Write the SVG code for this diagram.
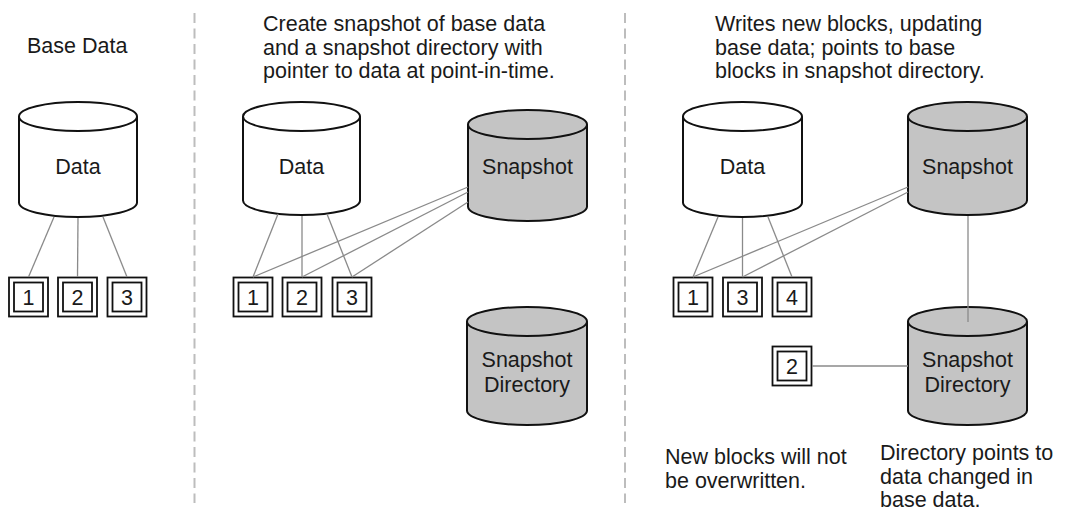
<svg xmlns="http://www.w3.org/2000/svg" width="1072" height="515" viewBox="0 0 1072 515">
  <style>
    text { font-family: "Liberation Sans", Arial, sans-serif; font-size: 21.5px; fill: #1a1a1a; }
    .mid { text-anchor: middle; }
    .cyl { stroke: #111; stroke-width: 2; }
    .white { fill: #ffffff; }
    .grey { fill: #c4c4c4; }
    .blk { fill: #ffffff; stroke: #111; stroke-width: 1.8; }
    .link { stroke: #8a8a8a; stroke-width: 1.3; fill: none; }
    .sep { stroke: #bdbdbd; stroke-width: 2; stroke-dasharray: 10 5.5; }
  </style>
  <rect width="1072" height="515" fill="#ffffff"/>

  <!-- panel separators -->
  <g id="separators">
    <line class="sep" x1="194.5" y1="13" x2="194.5" y2="503"/>
    <line class="sep" x1="625" y1="13" x2="625" y2="503"/>
  </g>

  <!-- captions -->
  <g id="captions">
    <text x="27" y="53">Base Data</text>
    <text x="263" y="31">Create snapshot of base data</text>
    <text x="263" y="55">and a snapshot directory with</text>
    <text x="263" y="78">pointer to data at point-in-time.</text>
    <text x="715" y="31">Writes new blocks, updating</text>
    <text x="715" y="55">base data; points to base</text>
    <text x="715" y="78">blocks in snapshot directory.</text>
    <text x="665" y="464">New blocks will not</text>
    <text x="665" y="488">be overwritten.</text>
    <text x="880" y="460">Directory points to</text>
    <text x="880" y="484">data changed in</text>
    <text x="880" y="507">base data.</text>
  </g>

  <!-- panel 1: base data -->
  <g id="p1-data">
    <path class="cyl white" d="M19 116.5 V202.5 A59 14.5 0 0 0 137 202.5 V116.5"/>
    <ellipse class="cyl white" cx="78" cy="116.5" rx="59" ry="14.5"/>
    <text class="mid" x="78" y="174">Data</text>
  </g>
  <g id="p1-block1"><rect class="blk" x="9" y="277.5" width="39" height="39"/><rect class="blk" x="14" y="282.5" width="29" height="29"/><text class="mid" x="28.5" y="305">1</text></g>
  <g id="p1-block2"><rect class="blk" x="58" y="277.5" width="39" height="39"/><rect class="blk" x="63" y="282.5" width="29" height="29"/><text class="mid" x="77.5" y="305">2</text></g>
  <g id="p1-block3"><rect class="blk" x="107.5" y="277.5" width="39" height="39"/><rect class="blk" x="112.5" y="282.5" width="29" height="29"/><text class="mid" x="127" y="305">3</text></g>

  <!-- panel 2: snapshot created -->
  <g id="p2-data">
    <path class="cyl white" d="M243 116.5 V200.5 A58.5 14.5 0 0 0 360 200.5 V116.5"/>
    <ellipse class="cyl white" cx="301.5" cy="116.5" rx="58.5" ry="14.5"/>
    <text class="mid" x="301.5" y="174">Data</text>
  </g>
  <g id="p2-snapshot">
    <path class="cyl grey" d="M468 124.5 V206.5 A59.5 14.5 0 0 0 587 206.5 V124.5"/>
    <ellipse class="cyl grey" cx="527.5" cy="124.5" rx="59.5" ry="14.5"/>
    <text class="mid" x="527.5" y="174">Snapshot</text>
  </g>
  <g id="p2-directory">
    <path class="cyl grey" d="M467 321.5 V410.5 A60 14.5 0 0 0 587 410.5 V321.5"/>
    <ellipse class="cyl grey" cx="527" cy="321.5" rx="60" ry="14.5"/>
    <text class="mid" x="527" y="367">Snapshot</text>
    <text class="mid" x="527" y="392">Directory</text>
  </g>
  <g id="p2-block1"><rect class="blk" x="233.5" y="277.5" width="39" height="39"/><rect class="blk" x="238.5" y="282.5" width="29" height="29"/><text class="mid" x="253" y="305">1</text></g>
  <g id="p2-block2"><rect class="blk" x="282.5" y="277.5" width="39" height="39"/><rect class="blk" x="287.5" y="282.5" width="29" height="29"/><text class="mid" x="302" y="305">2</text></g>
  <g id="p2-block3"><rect class="blk" x="332.5" y="277.5" width="39" height="39"/><rect class="blk" x="337.5" y="282.5" width="29" height="29"/><text class="mid" x="352" y="305">3</text></g>

  <!-- panel 3: after writes -->
  <g id="p3-data">
    <path class="cyl white" d="M683 116.5 V202.5 A59.5 14.5 0 0 0 802 202.5 V116.5"/>
    <ellipse class="cyl white" cx="742.5" cy="116.5" rx="59.5" ry="14.5"/>
    <text class="mid" x="742.5" y="174">Data</text>
  </g>
  <g id="p3-snapshot">
    <path class="cyl grey" d="M908 116.5 V200.5 A59.5 14.5 0 0 0 1027 200.5 V116.5"/>
    <ellipse class="cyl grey" cx="967.5" cy="116.5" rx="59.5" ry="14.5"/>
    <text class="mid" x="967.5" y="174">Snapshot</text>
  </g>
  <g id="p3-directory">
    <path class="cyl grey" d="M908 321.5 V410.5 A59.5 14.5 0 0 0 1027 410.5 V321.5"/>
    <ellipse class="cyl grey" cx="967.5" cy="321.5" rx="59.5" ry="14.5"/>
    <text class="mid" x="967.5" y="367">Snapshot</text>
    <text class="mid" x="967.5" y="392">Directory</text>
  </g>
  <g id="p3-block1"><rect class="blk" x="673.5" y="277.5" width="39" height="39"/><rect class="blk" x="678.5" y="282.5" width="29" height="29"/><text class="mid" x="693" y="305">1</text></g>
  <g id="p3-block3"><rect class="blk" x="723" y="277.5" width="39" height="39"/><rect class="blk" x="728" y="282.5" width="29" height="29"/><text class="mid" x="742.5" y="305">3</text></g>
  <g id="p3-block4"><rect class="blk" x="772.5" y="277.5" width="39" height="39"/><rect class="blk" x="777.5" y="282.5" width="29" height="29"/><text class="mid" x="792" y="305">4</text></g>
  <g id="p3-block2"><rect class="blk" x="772.5" y="346.5" width="39" height="39"/><rect class="blk" x="777.5" y="351.5" width="29" height="29"/><text class="mid" x="792" y="374">2</text></g>

  <!-- connectors -->
  <g id="connectors">
    <line class="link" x1="54" y1="217" x2="28.5" y2="277"/>
    <line class="link" x1="78" y1="218" x2="77.5" y2="277"/>
    <line class="link" x1="103" y1="217" x2="127" y2="277"/>

    <line class="link" x1="278" y1="214" x2="253" y2="277"/>
    <line class="link" x1="302" y1="216" x2="302" y2="277"/>
    <line class="link" x1="327" y1="214" x2="352" y2="277"/>
    <line class="link" x1="468" y1="187" x2="253" y2="277"/>
    <line class="link" x1="468" y1="192" x2="302" y2="277"/>
    <line class="link" x1="468" y1="202" x2="352" y2="277"/>

    <line class="link" x1="718" y1="217" x2="693" y2="277"/>
    <line class="link" x1="742.5" y1="218" x2="742.5" y2="277"/>
    <line class="link" x1="768" y1="217" x2="792" y2="277"/>
    <line class="link" x1="908" y1="187" x2="693" y2="277"/>
    <line class="link" x1="908" y1="192" x2="742.5" y2="277"/>
    <line class="link" x1="968" y1="216" x2="968" y2="322"/>
    <line class="link" x1="812" y1="366" x2="908" y2="366"/>
  </g>
</svg>
